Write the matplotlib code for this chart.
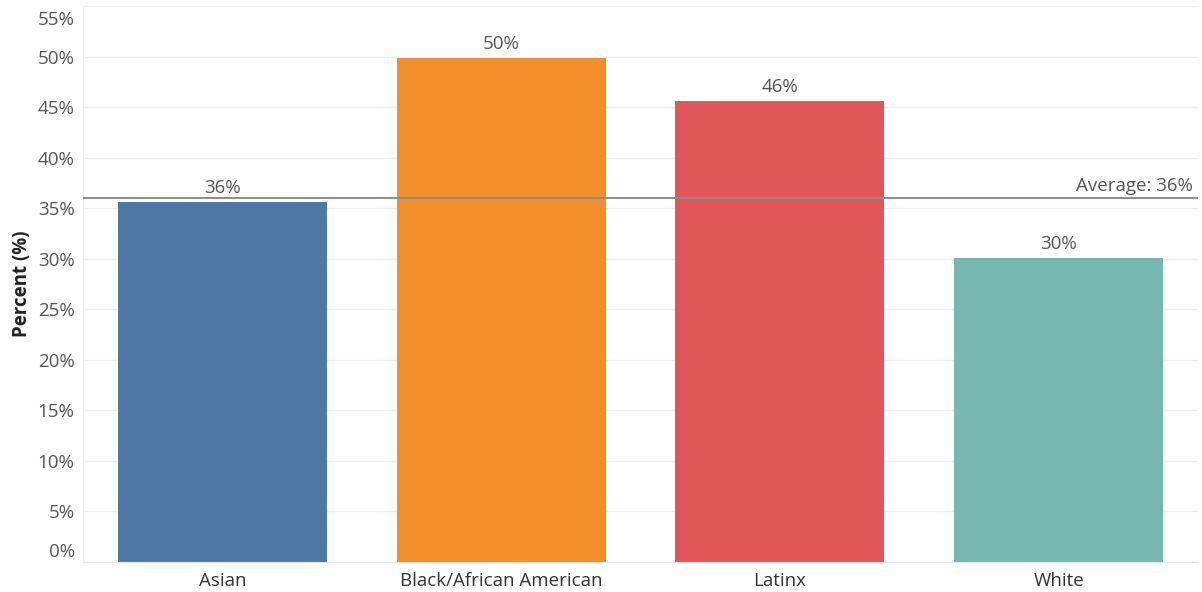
import matplotlib.pyplot as plt
import matplotlib.transforms as mtransforms

# data
groups = ["Asian", "Black/African American", "Latinx", "White"]
percent = [35.6, 49.9, 45.6, 30.1]
value_labels = ["36%", "50%", "46%", "30%"]
colors = ["#4e79a7", "#f28e2b", "#e15759", "#76b7b2"]
average = 36.0
y_ticks = list(range(0, 56, 5))

plt.rcParams['font.family'] = ['Open Sans', 'DejaVu Sans']

fig = plt.figure(figsize=(12.02, 5.92), dpi=100)
ax = fig.add_axes([83 / 1202, 30 / 592, 1115 / 1202, 556 / 592])

ax.bar(range(len(groups)), percent, width=0.75, color=colors, zorder=2)

# value labels above the bars
for i, v in enumerate(percent):
    ax.annotate(value_labels[i], (i, v), xytext=(0, 3.5), textcoords="offset points",
                ha="center", va="bottom", fontsize=13.5, color="#555555")

# average reference line
ax.axhline(average, color="#8c8c8c", lw=1.4, zorder=3)
ax.annotate("Average: 36%", (1, average), xycoords=("axes fraction", "data"),
            xytext=(-4, 2.5), textcoords="offset points", ha="right", va="bottom",
            fontsize=13.5, color="#555555")

ax.set_xlim(-0.5, len(groups) - 0.5)
ax.set_ylim(0, 55)
ax.set_yticks(y_ticks)
ax.set_yticklabels([f"{t}%" for t in y_ticks])
ax.set_xticks(range(len(groups)))
ax.set_xticklabels(groups)

ax.tick_params(axis="y", length=0, labelsize=13.5, labelcolor="#555555", pad=6)
ax.tick_params(axis="x", length=0, labelsize=13.5, labelcolor="#333333", pad=7)

# keep end labels inside the axis like the original
ylabels = ax.get_yticklabels()
ylabels[0].set_transform(ylabels[0].get_transform() +
                         mtransforms.ScaledTranslation(0, 12 / 100, fig.dpi_scale_trans))
ylabels[-1].set_transform(ylabels[-1].get_transform() +
                          mtransforms.ScaledTranslation(0, -12 / 100, fig.dpi_scale_trans))

ax.grid(axis="y", color="#f0f0f0", lw=1, zorder=0)
for side in ["top", "right"]:
    ax.spines[side].set_visible(False)
ax.spines["left"].set_color("#f0f0f0")
ax.spines["bottom"].set_color("#e6e6e6")

ax.set_ylabel("Percent (%)", fontsize=13.5, fontweight="bold", color="#222222", labelpad=4)

fig.savefig("out.png", dpi=100)
